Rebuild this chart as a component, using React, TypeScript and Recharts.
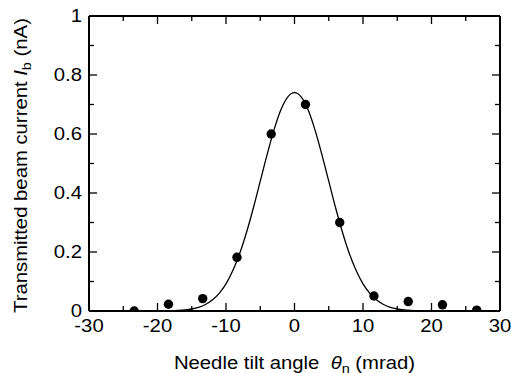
import React from 'react';
import { ComposedChart, Line, Scatter, XAxis, YAxis, Label } from 'recharts';

const measuredX = [-23.4, -18.4, -13.4, -8.4, -3.4, 1.6, 6.6, 11.6, 16.6, 21.6, 26.6];
const measuredY = [0.0, 0.023, 0.042, 0.182, 0.6, 0.7, 0.3, 0.051, 0.032, 0.021, 0.003];

const fitX = [-30, -20, -19, -18, -17, -16, -15, -14, -13, -12, -11, -10, -9, -8, -7, -6, -5, -4, -3, -2, -1, 0, 1, 2, 3, 4, 5, 6, 7, 8, 9, 10, 11, 12, 13, 14, 15, 16, 17, 18, 19, 20, 30];
const fitY = [0, 0, 0.0004, 0.0008, 0.0018, 0.0036, 0.0068, 0.0125, 0.022, 0.037, 0.06, 0.092, 0.137, 0.195, 0.267, 0.35, 0.44, 0.53, 0.613, 0.681, 0.725, 0.74, 0.725, 0.681, 0.613, 0.53, 0.44, 0.35, 0.267, 0.195, 0.137, 0.092, 0.06, 0.037, 0.022, 0.0125, 0.0068, 0.0036, 0.0018, 0.0008, 0.0004, 0, 0];

const xTicks = [-30, -25, -20, -15, -10, -5, 0, 5, 10, 15, 20, 25, 30];
const xMajor = [-30, -20, -10, 0, 10, 20, 30];
const yTicks = [0, 0.1, 0.2, 0.3, 0.4, 0.5, 0.6, 0.7, 0.8, 0.9, 1];
const yMajorLabels: Record<string, string> = { '0': '0', '0.2': '0.2', '0.4': '0.4', '0.6': '0.6', '0.8': '0.8', '1': '1' };
const xDomain = [-30, 30];
const yDomain = [0, 1];

const measured = measuredX.map((x, i) => ({ x, y: measuredY[i] }));
const fit = fitX.map((x, i) => ({ x, y: fitY[i] }));

const FONT = 'Liberation Sans, Arial, sans-serif';
const FS = 17.5;
const SX = 1.16;
const MAJ = 8;
const MIN = 5;
const AXIS = { stroke: '#000', strokeWidth: 2 };

const isMajorX = (v: number) => xMajor.includes(v);
const isMajorY = (v: number) => Math.abs(Math.round(v * 10) % 2) === 0;

const BottomTick = (p: any) => {
  const v = p.payload.value;
  const axisY = p.y - 9;
  const len = isMajorX(v) ? MAJ : MIN;
  return (
    <g>
      <line x1={p.x} x2={p.x} y1={axisY} y2={axisY - len} stroke="#000" strokeWidth={1.3} />
      {isMajorX(v) && (
        <text transform={`translate(${p.x},${p.y}) scale(${SX},1)`} x={0} y={0} dy="0.71em" textAnchor="middle" fontSize={FS} fontFamily={FONT} fill="#000">{v}</text>
      )}
    </g>
  );
};

const TopTick = (p: any) => {
  const v = p.payload.value;
  const len = isMajorX(v) ? MAJ : MIN;
  const axisY = p.y + 1;
  return <line x1={p.x} x2={p.x} y1={axisY} y2={axisY + len} stroke="#000" strokeWidth={1.3} />;
};

const LeftTick = (p: any) => {
  const v = p.payload.value;
  const axisX = p.x + 7;
  const major = isMajorY(v);
  const len = major ? MAJ : MIN;
  const key = String(Math.round(v * 10) / 10);
  return (
    <g>
      <line x1={axisX} x2={axisX + len} y1={p.y} y2={p.y} stroke="#000" strokeWidth={1.3} />
      {major && (
        <text transform={`translate(${p.x},${p.y}) scale(${SX},1)`} x={0} y={0} dy="0.36em" textAnchor="end" fontSize={FS} fontFamily={FONT} fill="#000">{yMajorLabels[key]}</text>
      )}
    </g>
  );
};

const RightTick = (p: any) => {
  const v = p.payload.value;
  const len = isMajorY(v) ? MAJ : MIN;
  const axisX = p.x - 1;
  return <line x1={axisX} x2={axisX - len} y1={p.y} y2={p.y} stroke="#000" strokeWidth={1.3} />;
};

const Dot = (p: any) => <circle cx={p.cx} cy={p.cy} r={4.7} fill="#000" />;

const XLabel = (p: any) => {
  const vb = p.viewBox;
  const cx = vb.x + vb.width / 2;
  return (
    <text transform={`translate(${cx},369) scale(${SX},1)`} x={0} y={0} textAnchor="middle" fontSize={FS} fontFamily={FONT} fill="#000">
      Needle tilt angle{'\u00a0\u00a0'}<tspan fontStyle="italic">θ</tspan>
      <tspan fontSize={12.5} dy={4}>n</tspan>
      <tspan dy={-4}> (mrad)</tspan>
    </text>
  );
};

const YLabel = (p: any) => {
  const vb = p.viewBox;
  const cy = vb.y + vb.height / 2 + 2;
  const cx = 27;
  return (
    <text transform={`translate(${cx},${cy}) rotate(-90) scale(${SX},1)`} x={0} y={0} textAnchor="middle" fontSize={FS} fontFamily={FONT} fill="#000">
      Transmitted beam current <tspan fontStyle="italic">I</tspan>
      <tspan fontSize={12.5} dy={4}>b</tspan>
      <tspan dy={-4}> (nA)</tspan>
    </text>
  );
};

export default function App() {
  return (
    <div style={{ position: 'absolute', left: 0, top: 0, width: 512, height: 373, background: '#fff' }}>
      <ComposedChart width={512} height={373} margin={{ top: 15, right: 11, bottom: 0, left: 0 }}>
        <XAxis xAxisId="b" dataKey="x" type="number" domain={xDomain} ticks={xTicks} interval={0}
          orientation="bottom" height={62} tickSize={0} tickMargin={9} tickLine={false}
          axisLine={AXIS} tick={<BottomTick />} allowDataOverflow>
          <Label content={<XLabel />} />
        </XAxis>
        <XAxis xAxisId="t" dataKey="x" type="number" domain={xDomain} ticks={xTicks} interval={0}
          orientation="top" height={1} tickSize={0} tickMargin={1} tickLine={false}
          axisLine={AXIS} tick={<TopTick />} allowDataOverflow />
        <YAxis yAxisId="l" dataKey="y" type="number" domain={yDomain} ticks={yTicks} interval={0}
          orientation="left" width={89} tickSize={0} tickMargin={7} tickLine={false}
          axisLine={AXIS} tick={<LeftTick />} allowDataOverflow>
          <Label content={<YLabel />} />
        </YAxis>
        <YAxis yAxisId="r" dataKey="y" type="number" domain={yDomain} ticks={yTicks} interval={0}
          orientation="right" width={1} tickSize={0} tickMargin={1} tickLine={false}
          axisLine={AXIS} tick={<RightTick />} allowDataOverflow />
        <Line xAxisId="t" yAxisId="r" data={fit} dataKey="y" type="monotone" stroke="none" strokeOpacity={0}
          dot={false} activeDot={false} isAnimationActive={false} legendType="none" />
        <Line xAxisId="b" yAxisId="l" data={fit} dataKey="y" type="monotone" stroke="#000" strokeWidth={1.3}
          dot={false} activeDot={false} isAnimationActive={false} />
        <Scatter xAxisId="b" yAxisId="l" data={measured} dataKey="y" fill="#000" shape={<Dot />} isAnimationActive={false} />
      </ComposedChart>
    </div>
  );
}
